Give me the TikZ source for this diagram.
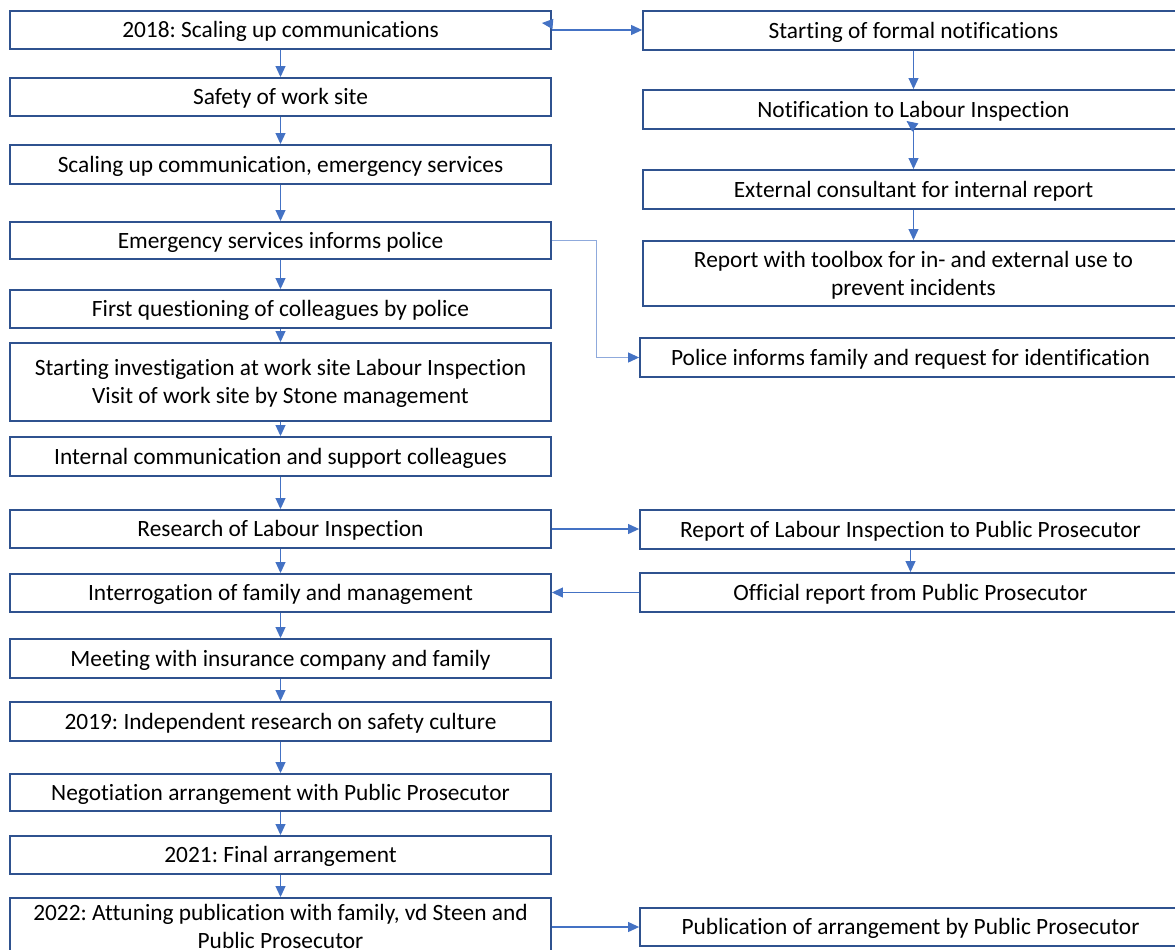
\documentclass[tikz,border=0pt]{standalone}
\usepackage{fontspec}
\setmainfont[Ligatures = NoCommon]{Carlito}
\frenchspacing
\usetikzlibrary{arrows.meta}
\definecolor{boxblue}{HTML}{2F528F}
\definecolor{arrblue}{HTML}{4472C4}
\definecolor{lightblue}{HTML}{8FAADC}
\tikzset{box/.style = {draw = boxblue, line width = 1.1pt, minimum width = 10.82cm, minimum height = 0.76cm, align = center, inner sep = 0, text height = 8.6pt, text depth = 0pt, font = \fontsize{13.3}{15.9}\selectfont}}
\tikzset{twoline/.style = {text height = 24.5pt}}
\tikzset{arr/.style = {draw = arrblue, line width = 0.6pt, -{Triangle[length = 0.22cm, width = 0.2cm, color = arrblue]}}}

\begin{document}
\begin{tikzpicture}[x = 0.02cm, y = -0.02cm]
    \useasboundingbox (0, 0) rectangle (1175, 949);
    \clip (0, 0) rectangle (1175, 949);
    \node [box] (scaling) at (280.5, 30) {2018: Scaling up communications};
    \node [box] (safety) at (280.5, 97) {Safety of work site};
    \node [box, minimum height = 0.78cm] (emerg) at (280.5, 164.5) {Scaling up communication, emergency services};
    \node [box, minimum height = 0.74cm] (police) at (280.5, 240.5) {Emergency services informs police};
    \node [box] (question) at (280.5, 309) {First questioning of colleagues by police};
    \node [box, twoline, minimum height = 1.56cm] (investig) at (280.5, 382) {Starting investigation at work site Labour Inspection\\Visit of work site by Stone management};
    \node [box, minimum height = 0.78cm] (internal) at (280.5, 456.5) {Internal communication and support colleagues};
    \node [box] (research) at (280.5, 529) {Research of Labour Inspection};
    \node [box] (interrog) at (280.5, 593) {Interrogation of family and management};
    \node [box, minimum height = 0.78cm] (meeting) at (280.5, 658.5) {Meeting with insurance company and family};
    \node [box, minimum height = 0.78cm] (indep) at (280.5, 721.5) {2019: Independent research on safety culture};
    \node [box, minimum height = 0.74cm] (negot) at (280.5, 792.5) {Negotiation arrangement with Public Prosecutor};
    \node [box] (final) at (280.5, 855) {2021: Final arrangement};
    \node [box, twoline, minimum height = 1.16cm] (attune) at (280.5, 927) {2022: Attuning publication with family, vd Steen and\\Public Prosecutor};

    \node [box, minimum height = 0.78cm] (formal) at (913.5, 30.5) {Starting of formal notifications};
    \node [box, minimum height = 0.78cm] (notif) at (913.5, 109.5) {Notification to Labour Inspection};
    \node [box, minimum height = 0.78cm] (consult) at (913.5, 189.5) {External consultant for internal report};
    \node [box, twoline, minimum height = 1.3cm] (toolbox) at (913.5, 273.5) {Report with toolbox for in- and external use to\\prevent incidents};
    \node [box, minimum height = 0.78cm] (family) at (910.5, 357.5) {Police informs family and request for identification};
    \node [box, minimum height = 0.78cm] (labrep) at (910.5, 529.5) {Report of Labour Inspection to Public Prosecutor};
    \node [box, minimum height = 0.78cm] (official) at (910.5, 592.5) {Official report from Public Prosecutor};
    \node [box] (publ) at (910.5, 927) {Publication of arrangement by Public Prosecutor};

    \draw [arr] (scaling) -- (safety);
    \draw [arr] (safety) -- (emerg);
    \draw [arr] (emerg) -- (police);
    \draw [arr] (police) -- (question);
    \draw [arr] (question) -- (investig);
    \draw [arr] (investig) -- (internal);
    \draw [arr] (internal) -- (research);
    \draw [arr] (research) -- (interrog);
    \draw [arr] (interrog) -- (meeting);
    \draw [arr] (meeting) -- (indep);
    \draw [arr] (indep) -- (negot);
    \draw [arr] (negot) -- (final);
    \draw [arr] (final) -- (attune);

    \draw [arr] (scaling.east) -- (scaling.east -| formal.west);
    \draw [arr] (scaling.east) ++(1, -6) -- ++(-11, -1);
    \draw [arr] (formal) -- (notif);
    \draw [arr] (notif) -- (consult);
    \draw [arr] (notif.south) ++(1, -3) -- ++(-8, -6);
    \draw [arr] (consult) -- (toolbox);
    \draw [arr, draw = lightblue] (police.east) -- ++(45, 0) |- (family.west);
    \draw [arr] (research.east) -- (research.east -| labrep.west);
    \draw [arr] (labrep) -- (official);
    \draw [arr] (official.west) -- (official.west -| interrog.east);
    \draw [arr] (publ.west -| attune.east) -- (publ.west);
  \end{tikzpicture}
\end{document}
